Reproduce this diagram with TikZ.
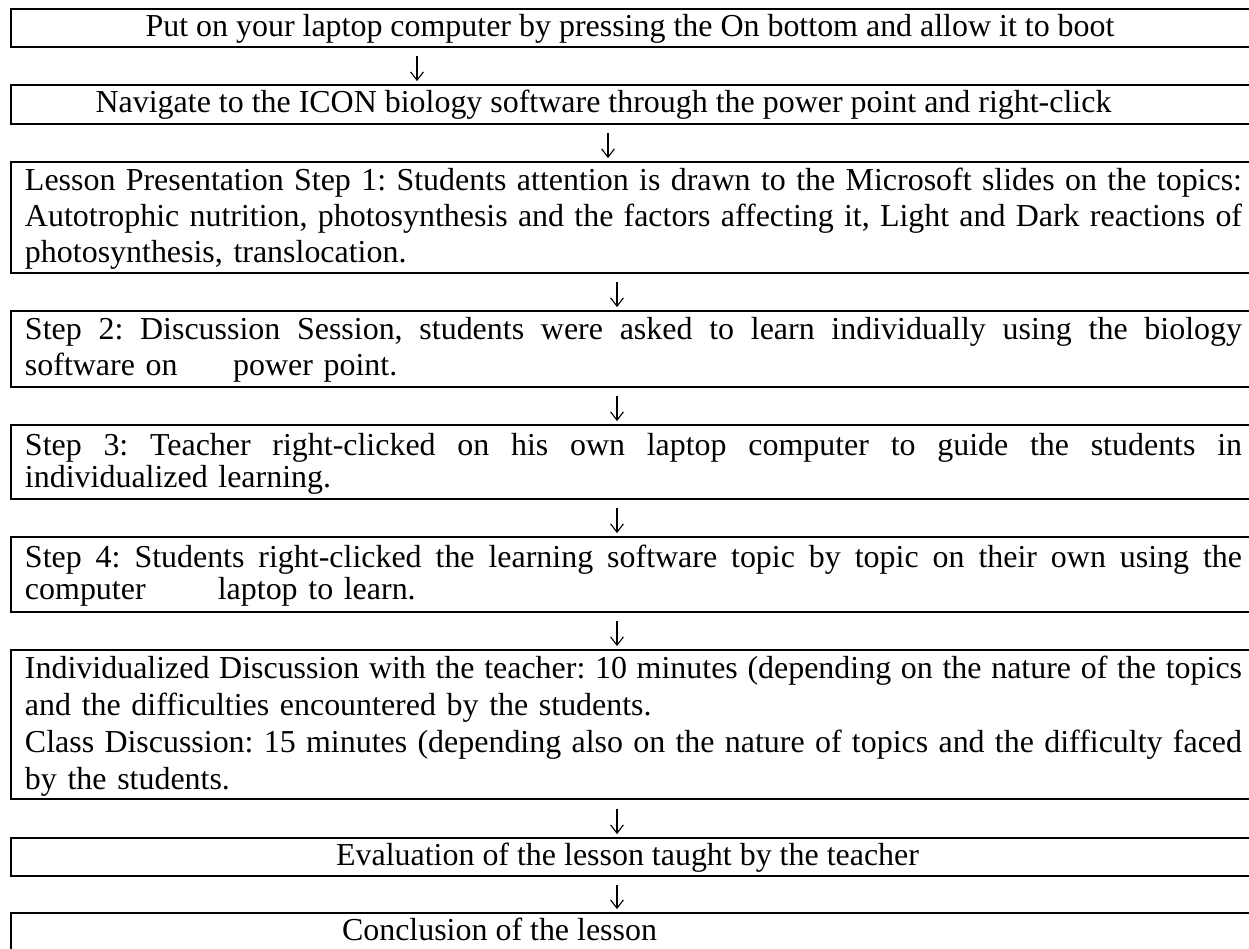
\documentclass[tikz,border=0pt]{standalone}
\usepackage{fontspec}
\setmainfont{Liberation Serif}
\usetikzlibrary{arrows.meta}

% one drawing unit = 0.36pt
% a justified line: every interword space takes an equal share of the slack
\newcommand{\fullln}[1]{{\frenchspacing
  \spaceskip=\fontdimen2\font plus 1fil minus 0.3\fontdimen2\font
  \makebox[\linewidth][s]{#1}}}
\newcommand{\lastln}[1]{\makebox[\linewidth][l]{#1}}

\tikzset{
  stepbox/.style={draw, line width=0.48pt, rectangle, inner sep=0pt, outer sep=0pt,
    anchor=north west, minimum width=1251*0.36pt},
  txt/.style={inner sep=0pt, outer sep=0pt, font=\fontsize{11.5}{13}\selectfont},
  para/.style={txt, anchor=base west, text width=1217*0.36pt},
  flow/.style={line width=0.4pt, -{Straight Barb[length=3pt,width=4.6pt]}, shorten >=1.4pt}
}

\begin{document}
\begin{tikzpicture}[x=0.36pt, y=-0.36pt]
\useasboundingbox (0,0) rectangle (1249,948);

% frames of the steps
\node[stepbox, minimum height=38*0.36pt]  (b1) at (11,9)   {};
\node[stepbox, minimum height=39*0.36pt]  (b2) at (11,85)  {};
\node[stepbox, minimum height=111*0.36pt] (b3) at (11,162) {};
\node[stepbox, minimum height=76*0.36pt]  (b4) at (11,311) {};
\node[stepbox, minimum height=74*0.36pt]  (b5) at (11,425) {};
\node[stepbox, minimum height=75*0.36pt]  (b6) at (11,537) {};
\node[stepbox, minimum height=149*0.36pt] (b7) at (11,650) {};
\node[stepbox, minimum height=38*0.36pt]  (b8) at (11,838) {};
\node[stepbox, minimum height=60*0.36pt]  (b9) at (11,913) {};

% texts of the steps
\node[txt, anchor=base] (t1) at (630,36)
  {Put on your laptop computer by pressing the On bottom and allow it to boot};
\node[txt, anchor=base] (t2) at (603.5,112)
  {Navigate to the ICON biology software through the power point and right-click};
\node[para, font=\fontsize{11.5}{12.96}\selectfont] (t3) at (25,190)
  {\fullln{Lesson Presentation Step 1: Students attention is drawn to the Microsoft slides on the topics:}\\
   \fullln{Autotrophic nutrition, photosynthesis and the factors affecting it, Light and Dark reactions of}\\
   \lastln{photosynthesis, translocation.}};
\node[para, font=\fontsize{11.5}{12.96}\selectfont] (t4) at (25,339)
  {\fullln{Step 2: Discussion Session, students were asked to learn individually using the biology}\\
   \lastln{software on\hspace*{20pt}power point.}};
\node[para, font=\fontsize{11.5}{11.52}\selectfont] (t5) at (25,455)
  {\fullln{Step 3: Teacher right-clicked on his own laptop computer to guide the students in}\\
   \lastln{individualized learning.}};
\node[para, font=\fontsize{11.5}{11.52}\selectfont] (t6) at (25,567)
  {\fullln{Step 4: Students right-clicked the learning software topic by topic on their own using the}\\
   \lastln{computer\hspace*{26pt}laptop to learn.}};
\node[para, font=\fontsize{11.5}{13.32}\selectfont] (t7) at (25,678)
  {\fullln{Individualized Discussion with the teacher: 10 minutes (depending on the nature of the topics}\\
   \lastln{and the difficulties encountered by the students.}\\
   \fullln{Class Discussion: 15 minutes (depending also on the nature of topics and the difficulty faced}\\
   \lastln{by the students.}};
\node[txt, anchor=base] (t8) at (627.5,865)
  {Evaluation of the lesson taught by the teacher};
\node[txt, anchor=base west] (t9) at (342,940)
  {Conclusion of the lesson};

% arrows between the steps
\coordinate (a1) at (417,56);
\coordinate (a2) at (608,133);
\coordinate (a3) at (617,282);
\coordinate (a4) at (617,396);
\coordinate (a5) at (617,508);
\coordinate (a6) at (617,621);
\coordinate (a7) at (617,809);
\coordinate (a8) at (617,885);
\draw[flow] (a1) -- (b2.north -| a1);
\draw[flow] (a2) -- (b3.north -| a2);
\draw[flow] (a3) -- (b4.north -| a3);
\draw[flow] (a4) -- (b5.north -| a4);
\draw[flow] (a5) -- (b6.north -| a5);
\draw[flow] (a6) -- (b7.north -| a6);
\draw[flow] (a7) -- (b8.north -| a7);
\draw[flow] (a8) -- (b9.north -| a8);
\end{tikzpicture}
\end{document}
